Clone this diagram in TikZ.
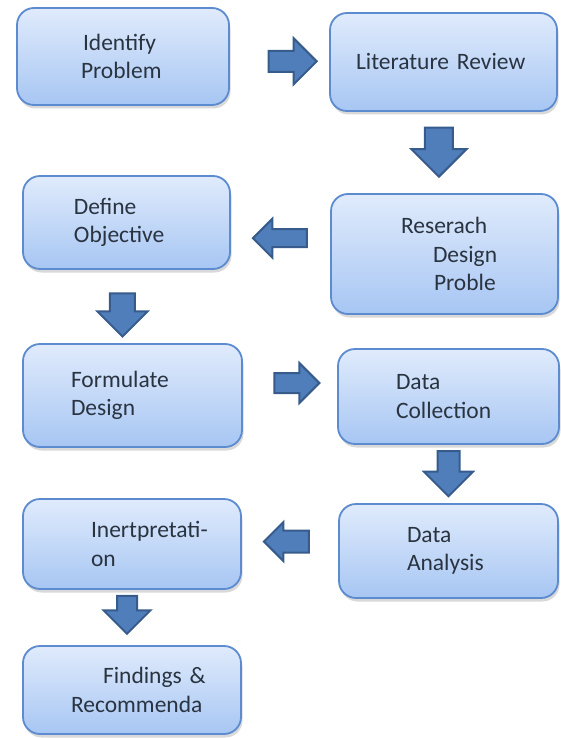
\documentclass[tikz,border=0pt]{standalone}
\usepackage{fontspec}
\setmainfont{Carlito}
\usepackage{xcolor}
\usepackage{tikz}
\usetikzlibrary{shapes.arrows, shadows}

\definecolor{boxline}{HTML}{5C8BCF}
\definecolor{boxtop}{HTML}{E0EBFC}
\definecolor{boxbot}{HTML}{A7C6F3}
\definecolor{arrfill}{HTML}{4F7EBB}
\definecolor{arrline}{HTML}{375C8C}
\definecolor{txt}{HTML}{2A3441}

\begin{document}
\begin{tikzpicture}[
  x=1pt, y=-1pt,
  box/.style 2 args={draw=boxline, line width=1.8pt, rounded corners=17pt,
    top color=boxtop, bottom color=boxbot, inner xsep=0pt, align=left,
    text width=#1, minimum width=#1, minimum height=#2, text=txt,
    font=\fontsize{23.5pt}{28.5pt}\selectfont,
    drop shadow={shadow xshift=1.5pt, shadow yshift=-3.5pt, opacity=0.3}},
  barrow/.style n args={3}{single arrow, draw=arrline, fill=arrfill,
    line width=2pt, inner xsep=0pt, minimum height=#1, inner ysep=#2,
    single arrow head extend=#3}
]
\useasboundingbox (0,0) rectangle (560,738);

% steps
\node[box={212pt}{97pt}] (idp) at (123,56.5) {\hspace*{66pt}Identify\\\hspace*{64pt}Problem};
\node[box={227pt}{98pt}] (lit) at (443.5,62) {\hspace*{26pt}Literature Review};
\node[box={227pt}{120pt}] (rdp) at (444.5,254) {\hspace*{70pt}Reserach\\\hspace*{102pt}Design\\\hspace*{103pt}Proble};
\node[box={207pt}{93pt}] (dob) at (126.5,222.5) {\hspace*{51pt}Define\\\hspace*{51pt}Objective};
\node[box={219pt}{103pt}] (fdg) at (132.5,395.5) {\hspace*{48pt}Formulate\\\hspace*{48pt}Design};
\node[box={221pt}{95pt}] (dcl) at (448.5,396.5) {\hspace*{58pt}Data\\\hspace*{58pt}Collection};
\node[box={219pt}{94pt}] (dan) at (448.5,551) {\hspace*{68pt}Data\\\hspace*{68pt}Analysis};
\node[box={218pt}{90pt}] (itp) at (132,544) {\hspace*{68pt}Inertpretati-\\\hspace*{68pt}on};
\node[box={218pt}{88pt}] (frc) at (132,690) {\hspace*{80pt}Findings \&\\\hspace*{48pt}Recommenda};

% block arrows
\path (idp) -- node[pos=.58, yshift=-2pt, barrow={48pt}{9.5pt}{12.5pt}] (a1) {} (lit);
\path (lit) -- node[pos=.41, xshift=-5pt, rotate=-90, barrow={49pt}{13pt}{13.5pt}] (a2) {} (rdp);
\path (rdp) -- node[pos=.46, rotate=180, barrow={54pt}{8pt}{10.5pt}] (a3) {} (dob);
\path (dob) -- node[pos=.53, xshift=-7pt, rotate=-90, barrow={43pt}{11.5pt}{12.5pt}] (a4) {} (fdg);
\path (fdg) -- node[pos=.52, yshift=13pt, barrow={45pt}{9pt}{10pt}] (a5) {} (dcl);
\path (dcl) -- node[pos=.4, rotate=-90, barrow={45pt}{10pt}{13.5pt}] (a6) {} (dan);
\path (dan) -- node[pos=.48, yshift=6pt, rotate=180, barrow={45pt}{10pt}{8.5pt}] (a7) {} (itp);
\path (itp) -- node[pos=.36, xshift=-5pt, rotate=-90, barrow={38pt}{9pt}{13.5pt}] (a8) {} (frc);
\end{tikzpicture}
\end{document}
